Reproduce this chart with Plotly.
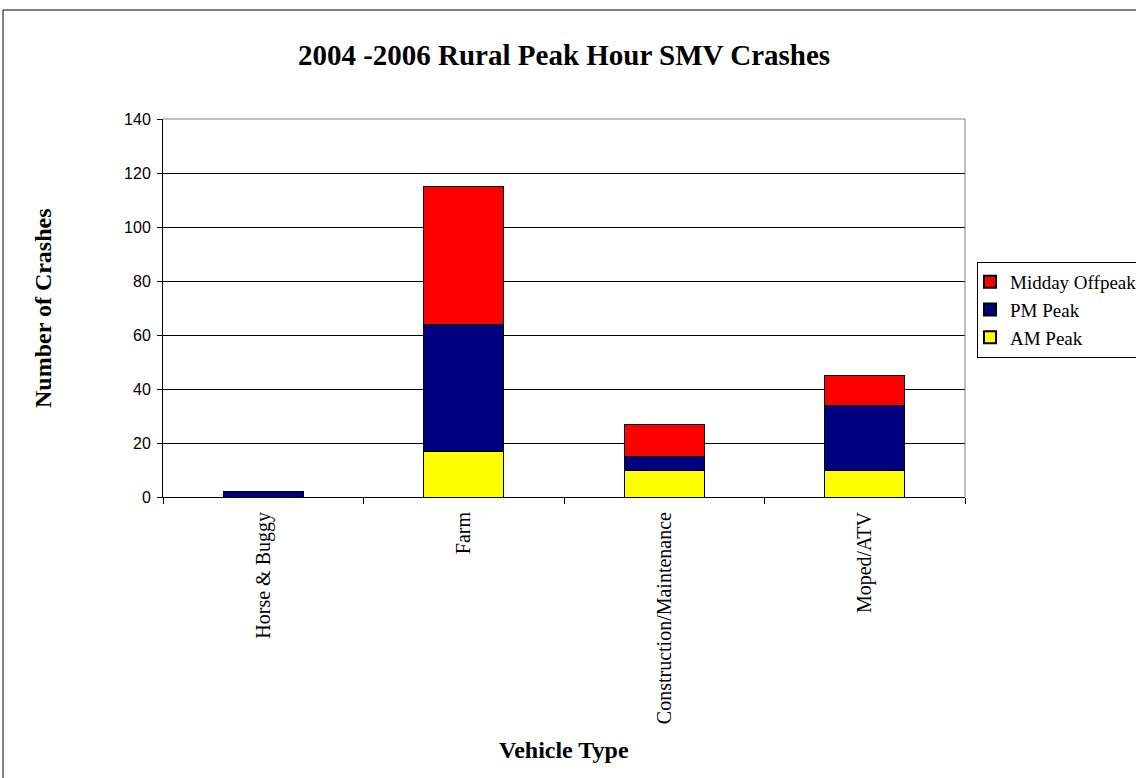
import plotly.graph_objects as go

# data
vehicle_types = ["Horse & Buggy", "Farm", "Construction/Maintenance", "Moped/ATV"]
am_peak = [0, 17, 10, 10]
pm_peak = [2, 47, 5, 24]
midday_offpeak = [0, 51, 12, 11]

y_ticks = [0, 20, 40, 60, 80, 100, 120, 140]

serif = "Liberation Serif, Times New Roman, serif"
sans = "Liberation Sans, Arial, sans-serif"

W, H = 1170, 778  # wider than the window: the legend box runs off the right edge

fig = go.Figure()

# stacked bars, bottom to top
fig.add_trace(go.Bar(x=vehicle_types, y=am_peak, name="AM Peak",
                     marker=dict(color="#FFFF00", line=dict(color="black", width=1))))
fig.add_trace(go.Bar(x=vehicle_types, y=pm_peak, name="PM Peak",
                     marker=dict(color="#000080", line=dict(color="black", width=1))))
fig.add_trace(go.Bar(x=vehicle_types, y=midday_offpeak, name="Midday Offpeak",
                     marker=dict(color="#FF0000", line=dict(color="black", width=1))))

fig.update_layout(
    width=W, height=H,
    margin=dict(l=163, r=W - 965, t=119, b=H - 497, pad=0),
    barmode="stack", bargap=0.6,
    paper_bgcolor="white", plot_bgcolor="white",
    title=dict(text="<b>2004 -2006 Rural Peak Hour SMV Crashes</b>",
               font=dict(family=serif, size=29, color="black"),
               x=0.5, xref="paper", xanchor="center",
               y=1 - 55 / H, yref="container", yanchor="middle"),
    legend=dict(x=(977 - 163) / 802, y=(497 - 262) / 378, xanchor="left", yanchor="top",
                traceorder="reversed", bgcolor="white",
                bordercolor="black", borderwidth=1,
                font=dict(family=serif, size=19, color="black"),
                itemsizing="constant", tracegroupgap=0, itemwidth=30,
                indentation=-8),
    showlegend=True,
)

fig.update_xaxes(
    showline=True, linecolor="black", linewidth=1,
    ticks="outside", ticklen=6, tickcolor="black", tickson="boundaries",
    tickangle=-90, tickfont=dict(family=serif, size=20, color="black"),
    ticklabelstandoff=6,
    showgrid=False,
)
fig.update_yaxes(
    range=[0, 140], tickvals=y_ticks,
    showline=True, linecolor="black", linewidth=1,
    ticks="outside", ticklen=5, tickcolor="black",
    tickfont=dict(family=sans, size=16, color="black"),
    ticklabelstandoff=3,
    showgrid=True, gridcolor="black", gridwidth=1,
    zeroline=False,
)

# axis titles
fig.add_annotation(text="<b>Number of Crashes</b>", textangle=-90,
                   xref="paper", yref="paper", x=(43 - 163) / 802, y=0.5,
                   xanchor="center", yanchor="middle",
                   showarrow=False, font=dict(family=serif, size=24, color="black"))
fig.add_annotation(text="<b>Vehicle Type</b>",
                   xref="paper", yref="paper", x=0.5, y=(497 - 750) / 378,
                   xanchor="center", yanchor="middle",
                   showarrow=False, font=dict(family=serif, size=24, color="black"))

# grey top/right frame of plot area
fig.add_shape(type="line", xref="paper", yref="paper", x0=0, x1=1, y0=1, y1=1,
              line=dict(color="#808080", width=1), layer="above")
fig.add_shape(type="line", xref="paper", yref="paper", x0=1, x1=1, y0=0, y1=1,
              line=dict(color="#808080", width=1), layer="above")

# outer chart border (runs off the right/bottom of the picture)
fig.add_shape(type="rect", xref="paper", yref="paper",
              x0=(3 - 163) / 802, x1=(1165 - 163) / 802,
              y0=(497 - 790) / 378, y1=(497 - 10) / 378,
              line=dict(color="black", width=1), layer="below")

# drop the browser's default body margin and scrollbars so the figure sits at 0,0
fig.write_html(
    "out.html",
    config={"displayModeBar": False},
    post_script="document.body.style.margin='0';"
                "document.body.style.overflow='hidden';"
                "document.documentElement.style.overflow='hidden';",
)
